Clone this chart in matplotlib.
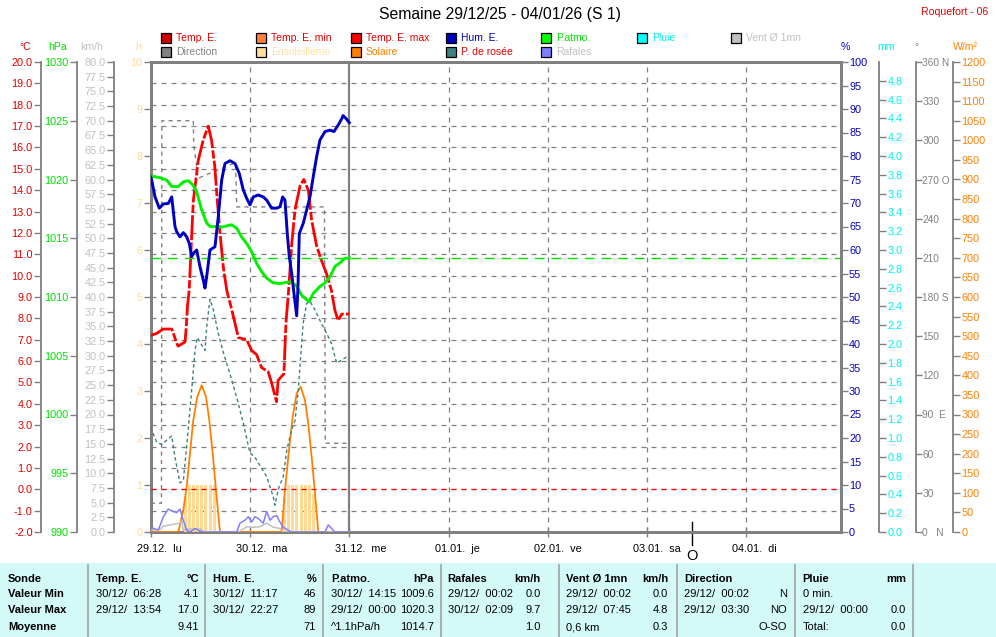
import matplotlib
matplotlib.use('Agg')
import matplotlib.pyplot as plt
import matplotlib.transforms as mtransforms
from matplotlib.patches import Rectangle

plt.rcParams['font.family'] = ['Liberation Sans', 'DejaVu Sans']

# ---------------- data ----------------
days = [0, 24, 48, 72, 96, 120, 144]
day_labels = ['29.12.  lu', '30.12.  ma', '31.12.  me', '01.01.  je', '02.01.  ve', '03.01.  sa', '04.01.  di']
now_hour = 48
moon_hour = 130.8
x_end = 166.8

temp_h = [0.0, 1.5, 3.0, 5.1, 6.0, 6.6, 7.5, 8.3, 8.6, 8.9, 9.3, 9.7, 10.3, 11.5, 12.7, 13.9, 14.7, 15.5, 16.1, 16.75,
          17.55, 18.4, 19.6, 21.2, 23.2, 24.4, 25.6, 26.8, 28.4, 29.2, 30.4, 30.8, 31.7, 32.2, 32.7, 33.3, 34.1, 34.9,
          36.1, 37.0, 38.1, 38.9, 40.1, 41.3, 42.5, 43.7, 44.5, 45.3, 46.2, 47.4, 48.0]
temp_v = [7.2, 7.3, 7.5, 7.5, 7.0, 6.7, 6.8, 6.9, 7.6, 8.6, 9.3, 11.0, 13.5, 15.4, 16.35, 17.0, 16.35, 15.1, 13.5, 12.0,
          10.4, 9.3, 8.4, 7.1, 7.0, 6.5, 6.3, 5.7, 5.5, 5.0, 4.1, 5.1, 5.3, 5.4, 7.8, 9.2, 11.5, 13.1,
          14.2, 14.5, 14.0, 12.6, 11.4, 10.7, 10.1, 9.3, 8.4, 7.9, 8.2, 8.2, 8.2]

dew_h = [0.0, 1.45, 2.66, 3.87, 5.08, 5.87, 7.08, 7.88, 8.7, 9.91, 10.71, 11.26, 12.33, 13.12, 13.53, 14.33, 15.13,
         16.34, 17.55, 19.17, 20.79, 22.38, 24.0, 25.21, 26.42, 28.04, 29.63, 30.04, 30.84, 32.05, 32.87, 34.08,
         34.88, 35.67, 36.25, 36.88, 37.7, 38.5, 39.71, 40.92, 42.54, 43.74, 44.95, 46.16, 47.37, 48.0]
dew_v = [2.9, 2.2, 2.1, 2.3, 2.5, 1.5, 0.3, 0.4, 2.0, 4.65, 6.5, 7.1, 6.75, 6.5, 7.6, 8.9, 8.4,
         7.3, 6.4, 5.4, 4.3, 3.1, 1.7, 1.5, 1.1, 0.6, -0.35, -0.75, 0.0, 0.6, 1.8, 2.8,
         3.2, 4.65, 6.2, 7.8, 8.7, 8.8, 8.4, 7.9, 7.3, 6.8, 5.9, 6.05, 6.2, 6.1]

hum_h = [0.0, 0.24, 1.04, 2.08, 3.05, 4.25, 5.08, 5.87, 6.28, 7.08, 7.88, 8.7, 9.33, 9.91, 10.3, 11.12, 11.92, 12.71,
         13.12, 13.53, 14.33, 15.54, 16.34, 17.16, 17.96, 19.17, 20.37, 21.41, 22.38, 23.2, 24.0, 24.8, 26.0, 27.21,
         28.04, 29.24, 30.45, 31.25, 31.9, 32.46, 33.02, 33.5, 34.08, 34.63, 35.29, 35.6, 35.92, 36.88, 37.7, 38.5,
         39.3, 40.12, 40.92, 42.13, 43.33, 44.3, 45.34, 46.16, 46.5, 47.2, 48.0]
hum_v = [75.5, 74.9, 71.3, 68.9, 69.8, 69.9, 71.3, 65.0, 63.9, 62.8, 63.7, 62.8, 61.4, 58.6, 59.3, 60.0, 56.4, 53.6,
         51.9, 54.3, 60.0, 60.7, 67.1, 74.9, 78.4, 79.0, 78.4, 76.3, 72.8, 71.0, 69.6, 71.3, 71.7, 71.3,
         70.6, 68.9, 68.9, 69.2, 71.3, 70.6, 63.5, 58.6, 55.0, 50.8, 46.0, 52.0, 63.5, 65.7, 68.5, 71.3,
         75.6, 79.9, 83.4, 85.2, 85.5, 85.2, 86.6, 87.9, 88.6, 88.0, 87.1]

pres_h = [0.0, 2.25, 3.87, 5.08, 6.67, 7.88, 9.09, 10.3, 11.12, 12.33, 13.53, 14.33, 15.54, 17.16, 18.37, 19.58,
          20.79, 22.0, 23.2, 24.41, 25.62, 26.83, 28.04, 29.63, 31.25, 32.87, 34.08, 35.29, 36.5, 38.25, 39.3,
          40.92, 42.13, 43.33, 44.54, 45.75, 46.96, 48.0]
pres_v = [1020.3, 1020.15, 1019.95, 1019.4, 1019.4, 1019.8, 1019.9, 1019.5, 1018.95, 1017.4, 1016.3, 1016.0, 1016.0,
          1015.95, 1016.05, 1016.15, 1015.85, 1015.1, 1014.55, 1013.85, 1012.85, 1012.15, 1011.6, 1011.2, 1011.15,
          1011.25, 1011.3, 1010.9, 1010.15, 1009.6, 1010.3, 1010.9, 1011.2, 1011.7, 1012.6, 1012.9, 1013.3, 1013.3]

sol_h = [0, 6.67, 7.88, 8.7, 9.5, 10.3, 11.26, 12.33, 13.37, 14.16, 14.98, 15.78, 16.75,
         31.66, 32.46, 33.26, 34.32, 35.29, 36.25, 37.29, 38.09, 38.91, 39.71, 40.51, 48.0]
sol_v = [0, 0, 56, 116, 201, 286, 345, 375, 345, 286, 201, 107, 0,
         0, 107, 192, 294, 354, 371, 337, 277, 192, 99, 0, 0]

sun_h = [8, 9, 10, 11, 12, 13, 14, 15, 32, 33, 34, 35, 36, 37, 38, 39]
sun_v = [0.75, 1, 1, 1, 1, 1, 1, 1, 0.75, 1, 1, 1, 1, 1, 1, 0.8]

gust_h = [0, 1.84, 3.05, 4.25, 5.46, 6.28, 7.08, 7.88, 8.7, 9.5, 10.71, 11.5, 12.5, 20.79, 21.58, 22.79, 23.59,
          24.41, 25.21, 26.0, 27.21, 28.04, 28.83, 29.63, 30.45, 31.25, 32.05, 33.26, 34.0, 42.13, 42.92, 44.13,
          44.5, 48.0]
gust_v = [0.8, 0.3, 2.6, 3.9, 3.5, 3.3, 3.9, 2.0, 0.3, 0.0, 0.6, 0.3, 0.0, 0.0, 1.5, 2.0, 2.6,
          1.7, 2.6, 2.3, 1.5, 3.5, 2.0, 2.6, 2.8, 1.7, 0.8, 0.3, 0.0, 0.0, 1.2, 0.3,
          0.0, 0.0]

wind_h = [0, 2.5, 3.05, 4.66, 7.08, 7.6, 7.88, 8.7, 12.0, 13.0, 21.17, 22.0, 23.2, 24.8, 26.42, 28.04, 29.63,
          31.25, 32.0, 48.0]
wind_v = [0.3, 0.5, 1.0, 1.2, 1.5, 1.8, 0.3, 0.5, 0.5, 0.0, 0.0, 0.3, 0.9, 0.8, 0.9, 1.5, 0.8,
          0.6, 0.0, 0.0]

dir_h = [0, 2.6, 2.7, 10.3, 10.4, 11.5, 20.5, 20.8, 42.0, 42.2, 48.0]
dir_v = [22, 22, 315, 315, 297, 271, 283, 249, 249, 68, 68]

temp_ticks = list(range(-2, 21))
pres_ticks = list(range(990, 1031, 5))
wind_ticks = [i * 2.5 for i in range(33)]
sun_ticks = list(range(0, 11))
hum_ticks = list(range(0, 101, 5))
rain_ticks = [i * 0.2 for i in range(25)]
dir_ticks = list(range(0, 361, 30))
dir_labels = ['0   N', '30', '60', '90  E', '120', '150', '180 S', '210', '240', '270 O', '300', '330', '360 N']
sol_ticks = list(range(0, 1201, 50))

title = 'Semaine 29/12/25 - 04/01/26 (S 1)'
station = 'Roquefort - 06'

legend_row1 = [('Temp. E.', '#D00000', '#E00000'), ('Temp. E. min', '#FF8040', '#E00000'),
               ('Temp. E. max', '#FF0000', '#E00000'), ('Hum. E.', '#0000C0', '#0000C0'),
               ('P.atmo.', '#00FF00', '#00E000'), ('Pluie', '#00FFFF', '#00F0F0'),
               ('Vent Ø 1mn', '#C0C0C0', '#C0C0C0')]
legend_row2 = [('Direction', '#808080', '#808080'), ('Ensoleilleme', '#FFE0A0', '#FFE0A0'),
               ('Solaire', '#FF8000', '#FF8000'), ('P. de rosée', '#408080', '#E00000'),
               ('Rafales', '#8080FF', '#C0C0C0')]

row_titles = ['Sonde', 'Valeur Min', 'Valeur Max', 'Moyenne']
tbl_head = [('Temp. E.', '°C'), ('Hum. E.', '%'), ('P.atmo.', 'hPa'), ('Rafales', 'km/h'),
            ('Vent Ø 1mn', 'km/h'), ('Direction', ''), ('Pluie', 'mm')]
tbl_min = [('30/12/  06:28', '4.1'), ('30/12/  11:17', '46'), ('30/12/  14:15', '1009.6'), ('29/12/  00:02', '0.0'),
           ('29/12/  00:02', '0.0'), ('29/12/  00:02', 'N'), ('0 min.', '')]
tbl_max = [('29/12/  13:54', '17.0'), ('30/12/  22:27', '89'), ('29/12/  00:00', '1020.3'), ('30/12/  02:09', '9.7'),
           ('29/12/  07:45', '4.8'), ('29/12/  03:30', 'NO'), ('29/12/  00:00', '0.0')]
tbl_avg = [('', '9.41'), ('', '71'), ('^1.1hPa/h', '1014.7'), ('', '1.0'), ('0,6 km', '0.3'), ('', 'O-SO'),
           ('Total:', '0.0')]

# ---------------- layout ----------------
W, H = 996, 637
fig = plt.figure(figsize=(W / 100, H / 100), dpi=100)
fig.patch.set_facecolor('white')


def fx(x):
    return x / W


def fy(y):
    return 1 - y / H


PX = 0.72  # points per pixel
GREY = '#808080'
TS = 7.8
GRID_LS = (0, (4, 4))
GRID_LW = 0.9
L, R, T, B = 150.7, 840.7, 62.0, 532.0
ax = fig.add_axes([fx(L), fy(B), (R - L) / W, (B - T) / H])
ax.set_xlim(0, x_end)
ax.set_ylim(temp_ticks[0], temp_ticks[-1])
ax.set_yticks(temp_ticks)
ax.set_yticklabels(['%.1f' % v for v in temp_ticks])
ax.tick_params(axis='y', colors=GREY, labelcolor='#E00000', labelsize=TS, length=5, width=1, pad=1)
ax.spines['left'].set_position(('outward', 109.7 * PX))
ax.spines['left'].set_color(GREY)
ax.spines['left'].set_linewidth(1.3)
ax.spines['right'].set_visible(False)
for s in ('top', 'bottom'):
    ax.spines[s].set_color(GREY)
    ax.spines[s].set_linewidth(3 * PX)
ax.grid(axis='y', ls=GRID_LS, color=GREY, lw=GRID_LW)
for d in days[1:]:
    if d == now_hour:
        ax.axvline(d, color=GREY, lw=1.6)
    else:
        ax.axvline(d, color=GREY, lw=GRID_LW, ls=GRID_LS)
ax.set_xticks(days)
ax.set_xticklabels(day_labels, fontsize=TS)
ax.tick_params(axis='x', direction='inout', length=7, width=1, colors=GREY, labelcolor='black', pad=5)
off = mtransforms.ScaledTranslation(-14 / 100, 0, fig.dpi_scale_trans)
for lbl in ax.get_xticklabels():
    lbl.set_horizontalalignment('left')
    lbl.set_transform(lbl.get_transform() + off)


def twin(side, offset_px, lw=1.3):
    a = ax.twinx()
    for s in a.spines.values():
        s.set_visible(False)
    sp = a.spines[side]
    sp.set_visible(True)
    sp.set_position(('outward', offset_px * PX))
    sp.set_color(GREY)
    sp.set_linewidth(lw)
    if side == 'left':
        a.yaxis.tick_left()
    else:
        a.yaxis.tick_right()
    a.patch.set_visible(False)
    a.set_xlim(0, x_end)
    return a


# sunshine hours (plot left frame)
axH = twin('left', 0, lw=3 * PX)
axH.set_ylim(0, 10)
axH.set_yticks(sun_ticks)
axH.tick_params(axis='y', colors=GREY, labelcolor='#FFDA9E', labelsize=TS, length=5, width=1, pad=1)
axH.bar(sun_h, sun_v, width=0.72, align='edge', color='#FFD891', lw=0)

# solar
axS = twin('right', 112.3)
axS.set_ylim(0, 1200)
axS.set_yticks(sol_ticks)
axS.tick_params(axis='y', colors=GREY, labelcolor='#FF8000', labelsize=TS, length=5, width=1, pad=1)
axS.plot(sol_h, sol_v, color='#FF8000', lw=1.3)

# wind
axW = twin('left', 36.7)
axW.set_ylim(0, 80)
axW.set_yticks(wind_ticks)
axW.set_yticklabels(['%.1f' % v for v in wind_ticks])
axW.tick_params(axis='y', colors=GREY, labelcolor='#C0C0C0', labelsize=TS, length=5, width=1, pad=1)
axW.plot(wind_h, wind_v, color='#C0C0C0', lw=1.1)
axW.plot(gust_h, gust_v, color='#8080FF', lw=1.1)

# direction
axD = twin('right', 75.3)
axD.set_ylim(0, 360)
axD.set_yticks(dir_ticks)
axD.set_yticklabels(dir_labels)
axD.tick_params(axis='y', colors=GREY, labelcolor=GREY, labelsize=7.3, length=4, width=1, pad=0.5)
axD.plot(dir_h, dir_v, color=GREY, lw=1, ls=(0, (3, 3)))

# rain (no rain this week)
axM = twin('right', 38.3)
axM.set_ylim(0, 5.0)
axM.set_yticks(rain_ticks)
axM.set_yticklabels(['%.1f' % v for v in rain_ticks])
axM.tick_params(axis='y', colors=GREY, labelcolor='#00F0F0', labelsize=TS, length=5, width=1, pad=1)

# temperature + dew point
axT = ax.twinx()
for s in axT.spines.values():
    s.set_visible(False)
axT.set_yticks([])
axT.patch.set_visible(False)
axT.set_xlim(0, x_end)
axT.set_ylim(temp_ticks[0], temp_ticks[-1])
axT.axhline(0, color='#FF0000', lw=GRID_LW, ls=GRID_LS)
axT.plot(dew_h, dew_v, color='#408080', lw=1, ls=(0, (2.5, 2)))
axT.plot(temp_h, temp_v, color='#FF0000', lw=2.0, ls=(0, (9, 0.8, 3, 0.8)))

# pressure
axP = twin('left', 73.7)
axP.set_ylim(990, 1030)
axP.set_yticks(pres_ticks)
axP.tick_params(axis='y', colors=GREY, labelcolor='#00E000', labelsize=TS, length=5, width=1, pad=1)
axP.axhline(pres_v[-1], color='#00E000', lw=1, ls=(0, (7, 5)))
axP.plot(pres_h, pres_v, color='#00F000', lw=2.1)

# humidity (plot right frame)
axR = twin('right', 0, lw=3 * PX)
axR.set_ylim(0, 100)
axR.set_yticks(hum_ticks)
axR.tick_params(axis='y', colors=GREY, labelcolor='#0000C0', labelsize=TS, length=5, width=1, pad=1)
axR.plot(hum_h, hum_v, color='#0000C0', lw=2.1)

# moon marker
bt = mtransforms.blended_transform_factory(ax.transData, ax.transAxes)
ax.plot([moon_hour, moon_hour], [0.021, -0.028], transform=bt, clip_on=False, color='black', lw=1)
ax.text(moon_hour, -0.051, 'O', transform=bt, ha='center', va='center', fontsize=10.5, color='black')

# ---------------- header texts ----------------
fig.text(fx(500), fy(15), title, ha='center', va='center', fontsize=11.3, color='black')
fig.text(fx(988), fy(12), station, ha='right', va='center', fontsize=7.6, color='#E00000')

units = [(25.5, '°C', '#E00000'), (58, 'hPa', '#00E000'), (92, 'km/h', '#C0C0C0'), (138, 'h', '#FFDA9E'),
         (845.6, '%', '#0000C0'), (886, 'mm', '#00F0F0'), (916.7, '°', GREY), (965.5, 'W/m²', '#FF8000')]
for xx, tt, cc in units:
    fig.text(fx(xx), fy(47), tt, ha='center', va='center', fontsize=7.6, color=cc)

legend_x = [161, 256, 351, 446, 541, 636.7, 731.3]
for row, yc in ((legend_row1, 37.7), (legend_row2, 52)):
    for (name, sw, tc), xx in zip(row, legend_x):
        fig.patches.append(Rectangle((fx(xx), fy(yc + 5)), 10 / W, 10 / H, transform=fig.transFigure,
                                     facecolor=sw, edgecolor='black', lw=0.9))
        fig.text(fx(xx + 15), fy(yc), name, ha='left', va='center', fontsize=7.5, color=tc)

# ---------------- bottom table ----------------
fig.patches.append(Rectangle((0, 0), 1, fy(563), transform=fig.transFigure, facecolor='#D4FAF8',
                             edgecolor='none', zorder=0))
seps = [87.7, 205, 322.7, 440.7, 558.7, 676.7, 794.7, 912.7]
for sx in seps:
    fig.lines.append(plt.Line2D([fx(sx), fx(sx)], [fy(565), 0], transform=fig.transFigure, color='#A0A0A0', lw=1.2))
row_y = [579, 594, 610, 627]
col_l = [95.7, 213.3, 331, 447.7, 565.7, 684.3, 802.7]
col_r = [199, 316, 434, 540.7, 668, 786.7, 906]
for yy, tt in zip(row_y, row_titles):
    fig.text(fx(8), fy(yy), tt, ha='left', va='center', fontsize=8, fontweight='bold', color='black')
for ri, rows in enumerate((tbl_head, tbl_min, tbl_max, tbl_avg)):
    for ci, (lt, rt) in enumerate(rows):
        fw = 'bold' if ri == 0 else 'normal'
        fig.text(fx(col_l[ci]), fy(row_y[ri]), lt, ha='left', va='center', fontsize=8, fontweight=fw)
        fig.text(fx(col_r[ci]), fy(row_y[ri]), rt, ha='right', va='center', fontsize=8, fontweight=fw)

fig.savefig('out.png', dpi=100)
